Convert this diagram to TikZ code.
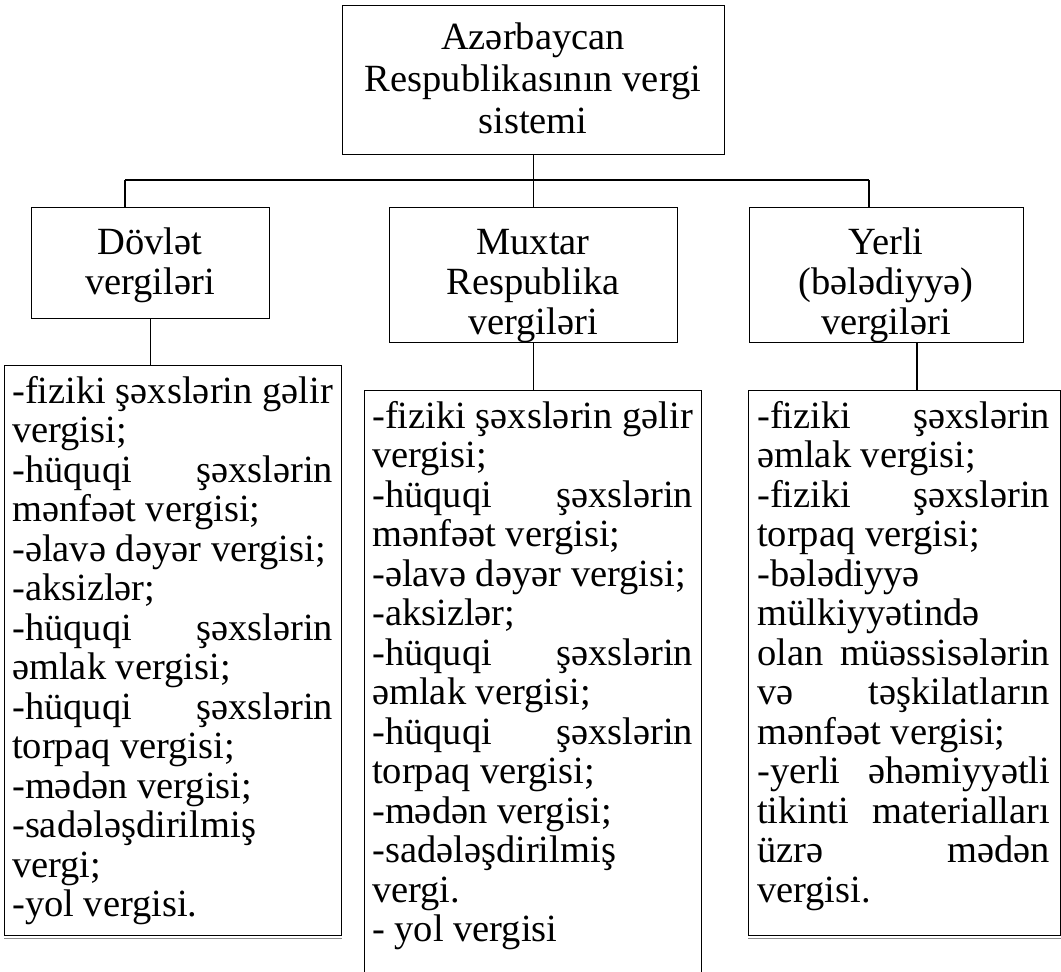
\documentclass[tikz,border=0pt]{standalone}
\usepackage{fontspec}
\setmainfont{Liberation Serif}
\newcommand\jl[3]{\makebox[#1][l]{#2\hfill #3}}
\tikzset{
  box/.style={draw, line width=1.4bp, inner sep=0pt, anchor=north west},
  conn/.style={line width=1.3bp},
  hd/.style={inner sep=0pt, anchor=base, font=\fontsize{38.5bp}{40bp}\selectfont},
  li/.style={inner sep=0pt, anchor=base west, font=\fontsize{38.5bp}{40bp}\selectfont},
  shadowline/.style={draw=black!45, line width=1bp}
}
\begin{document}
\begin{tikzpicture}[x=1bp,y=-1bp]
\useasboundingbox (0,0) rectangle (1061,972);
\fill[white] (0,0) rectangle (1061,972);
% boxes
\node[box, minimum width=382bp, minimum height=149bp] (top) at (342,5) {};
\node[box, minimum width=238bp, minimum height=111bp] (dov) at (31,207) {};
\node[box, minimum width=288bp, minimum height=135bp] (mux) at (389,207) {};
\node[box, minimum width=274bp, minimum height=135bp] (yer) at (749,207) {};
\node[box, minimum width=337bp, minimum height=570bp] (ldov) at (4,365) {};
\node[box, minimum width=337bp, minimum height=600bp] (lmux) at (364,390) {};
\node[box, minimum width=312bp, minimum height=545bp] (lyer) at (748,390) {};
\draw[shadowline] ([yshift=-2bp]ldov.south west) -- ([yshift=-2bp]ldov.south east);
\draw[shadowline] ([yshift=-2bp]lyer.south west) -- ([yshift=-2bp]lyer.south east);
% connectors
\coordinate (bL) at (125,180);
\coordinate (bR) at (869,180);
\coordinate (rc) at (917,0);
\draw[conn] (top.south) -- (top.south |- bL);
\draw[conn] (bL) -- (bR);
\draw[conn] (bL) -- (bL |- dov.north);
\draw[conn] (top.south |- bL) -- (top.south |- mux.north);
\draw[conn] (bR) -- (bR |- yer.north);
\draw[conn] (dov.south) -- (dov.south |- ldov.north);
\draw[conn] (mux.south) -- (mux.south |- lmux.north);
\draw[conn] (rc |- yer.south) -- (rc |- lyer.north);
% header texts
\node[hd] (t1) at (533,49) {Azərbaycan};
\node[hd] (t2) at (533,91) {Respublikasının vergi};
\node[hd] (t3) at (533,133) {sistemi};
\node[hd] (d1) at (150,254) {Dövlət};
\node[hd] (d2) at (150,294) {vergiləri};
\node[hd] (m1) at (533,254) {Muxtar};
\node[hd] (m2) at (533,294) {Respublika};
\node[hd] (m3) at (533,334) {vergiləri};
\node[hd] (y1) at (886,254) {Yerli};
\node[hd] (y2) at (886,294) {(bələdiyyə)};
\node[hd] (y3) at (886,334) {vergiləri};
% left list
\foreach \t [count=\i from 0] in {
  -fiziki şəxslərin gəlir, vergisi;,
  {\jl{321bp}{-hüquqi}{şəxslərin}}, mənfəət vergisi;,
  -əlavə dəyər vergisi;, -aksizlər;,
  {\jl{321bp}{-hüquqi}{şəxslərin}}, əmlak vergisi;,
  {\jl{321bp}{-hüquqi}{şəxslərin}}, torpaq vergisi;,
  -mədən vergisi;, -sadələşdirilmiş, vergi;, -yol vergisi.}
  \node[li] (ld\i) at (12,{403+39.5*\i}) {\t};
% middle list
\foreach \t [count=\i from 0] in {
  -fiziki şəxslərin gəlir, vergisi;,
  {\jl{321bp}{-hüquqi}{şəxslərin}}, mənfəət vergisi;,
  -əlavə dəyər vergisi;, -aksizlər;,
  {\jl{321bp}{-hüquqi}{şəxslərin}}, əmlak vergisi;,
  {\jl{321bp}{-hüquqi}{şəxslərin}}, torpaq vergisi;,
  -mədən vergisi;, -sadələşdirilmiş, vergi., - yol vergisi}
  \node[li] (lm\i) at (372,{428+39.5*\i}) {\t};
% right list
\foreach \t [count=\i from 0] in {
  {\jl{293bp}{-fiziki}{şəxslərin}}, əmlak vergisi;,
  {\jl{293bp}{-fiziki}{şəxslərin}}, torpaq vergisi;,
  -bələdiyyə, mülkiyyətində,
  {\jl{293bp}{olan}{müəssisələrin}}, {\jl{293bp}{və}{təşkilatların}},
  mənfəət vergisi;,
  {\jl{293bp}{-yerli}{əhəmiyyətli}}, {\jl{293bp}{tikinti}{materialları}},
  {\jl{293bp}{üzrə}{mədən}}, vergisi.}
  \node[li] (ly\i) at (757,{428+39.5*\i}) {\t};
\end{tikzpicture}
\end{document}
